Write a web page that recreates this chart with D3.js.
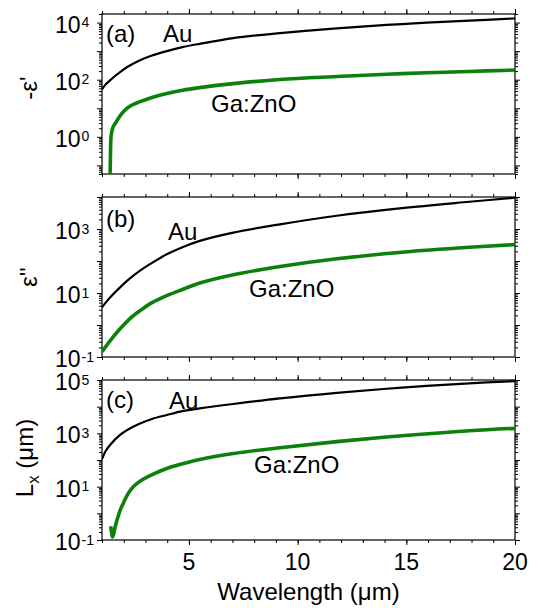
<!DOCTYPE html>
<html>
<head>
<meta charset="utf-8">
<script src="https://cdn.jsdelivr.net/npm/d3@7"></script>
<style>
body{margin:0;background:#fff}
text{font-family:Arial,"Liberation Sans",sans-serif;fill:#000}
</style>
</head>
<body>
<script>
// [wavelength um, value]
var auNegReal = [[1.0,46],[1.15,66],[1.37,95],[1.6,135],[1.83,186],[2.2,290],[2.75,480],[3.3,700],[3.98,1000],[4.7,1380],[5.5,1810],[7.04,2870],[9.19,4270],[11.8,6300],[14.8,8900],[17.9,11700],[20,14000]];
var gzoNegReal = [[1.37,0.03],[1.39,0.25],[1.41,0.9],[1.43,1.25],[1.48,1.9],[1.56,2.6],[1.65,3.3],[1.75,4.4],[1.98,7.6],[2.3,12],[2.75,17],[3.3,24],[3.98,33],[4.7,43],[5.5,53],[7.04,73],[9.19,102],[11.8,129],[14.8,163],[17.9,195],[20,218]];

var auImag = [[1.0,3.6],[1.37,7.2],[1.83,15],[2.3,29],[2.75,50],[3.3,87],[3.98,162],[4.7,270],[5.5,425],[7.04,770],[9.19,1400],[11.8,2600],[14.8,4500],[17.9,7100],[20,9500]];
var gzoImag = [[1.0,0.145],[1.37,0.32],[1.83,0.76],[2.3,1.62],[2.75,2.8],[3.3,5.0],[3.98,8.3],[4.7,12.9],[5.5,20.4],[7.04,37],[9.19,67],[11.8,117],[14.8,188],[17.9,268],[20,325]];

var auLx = [[1.0,107],[1.15,205],[1.37,365],[1.83,870],[2.3,1550],[2.75,2360],[3.3,3470],[3.98,4850],[4.7,6760],[5.5,8600],[7.04,12600],[9.19,20400],[11.8,33000],[14.8,52000],[17.9,75000],[20,91000]];
var gzoLx = [[1.40,0.33],[1.44,0.2],[1.48,0.13],[1.53,0.16],[1.6,0.3],[1.7,0.6],[1.85,1.4],[1.98,2.4],[2.2,5.5],[2.44,10],[2.8,17],[3.21,26],[3.98,48],[4.7,72],[5.5,105],[7.04,174],[9.19,290],[11.8,490],[14.8,810],[17.9,1250],[20,1540]];

var xTicksMajor = [5,10,15,20];
var xTicksMinor = d3.range(1,21);

var params = {
  width:538
, height:608
, left:102
, right:515
, ph:160
, tops:[14,197,380]
, font:23
};

var panels = [
  {tag:'(a)', domain:[0.05,2e4], labelExp:[0,2,4], au:auNegReal, gzo:gzoNegReal,
   tagPos:[106,41.5], auPos:[163,41.5], gzoPos:[211,111.5]}
, {tag:'(b)', domain:[0.1,1e4], labelExp:[-1,1,3], au:auImag, gzo:gzoImag,
   tagPos:[106,227], auPos:[168,240], gzoPos:[249,297]}
, {tag:'(c)', domain:[0.1,1e5], labelExp:[-1,1,3,5], au:auLx, gzo:gzoLx,
   tagPos:[106,408], auPos:[169,409], gzoPos:[254,473]}
];

var svg = d3.select('body').append('svg')
  .attr('width',params.width).attr('height',params.height);

var x = d3.scaleLinear().domain([1,20]).range([params.left,params.right]);

panels.forEach(function(p,i){
  var top = params.tops[i], bot = top + params.ph;
  var y = d3.scaleLog().domain(p.domain).range([bot,top]);
  var lo = Math.floor(Math.log10(p.domain[0])), hi = Math.ceil(Math.log10(p.domain[1]));
  var major = [], minor = [];
  for (var d=lo; d<=hi; d++){
    var v = Math.pow(10,d);
    if (v>=p.domain[0]*0.999 && v<=p.domain[1]*1.001) major.push(v);
    for (var k=2;k<10;k++){
      var m = k*v;
      if (m>=p.domain[0]*0.999 && m<=p.domain[1]*1.001) minor.push(m);
    }
  }

  var g = svg.append('g');
  var cid = 'clip'+i;
  g.append('clipPath').attr('id',cid).append('rect')
    .attr('x',params.left).attr('y',top)
    .attr('width',params.right-params.left).attr('height',params.ph);

  function tickAxis(axis,tv,size,tr){
    g.append('g').attr('transform',tr)
      .call(axis.tickValues(tv).tickSize(size).tickFormat(''))
      .call(function(s){
        s.select('.domain').remove();
        s.selectAll('line').attr('stroke','#000').attr('stroke-width',1);
      });
  }
  // y ticks both sides
  tickAxis(d3.axisLeft(y),minor,3,'translate('+params.left+',0)');
  tickAxis(d3.axisLeft(y),major,5,'translate('+params.left+',0)');
  tickAxis(d3.axisRight(y),minor,3,'translate('+params.right+',0)');
  tickAxis(d3.axisRight(y),major,5,'translate('+params.right+',0)');
  // x ticks top and bottom
  tickAxis(d3.axisTop(x),xTicksMinor,3,'translate(0,'+top+')');
  tickAxis(d3.axisTop(x),xTicksMajor,5,'translate(0,'+top+')');
  tickAxis(d3.axisBottom(x),xTicksMinor,3,'translate(0,'+bot+')');
  tickAxis(d3.axisBottom(x),xTicksMajor,5,'translate(0,'+bot+')');

  g.append('rect')
    .attr('x',params.left).attr('y',top)
    .attr('width',params.right-params.left).attr('height',params.ph)
    .attr('fill','none').attr('stroke','#000').attr('stroke-width',1.2);

  // y tick labels 10^n
  p.labelExp.forEach(function(e){
    var ty = y(Math.pow(10,e));
    g.append('text').attr('x',80.5).attr('y',ty+10)
      .attr('text-anchor','end').style('font-size',params.font+'px').text('10');
    g.append('text').attr('x',81.5).attr('y',ty+4.5)
      .style('font-size','14px').text(String(e));
  });

  var line = d3.line()
    .x(function(d){return x(d[0]);})
    .y(function(d){return y(d[1]);})
    .curve(d3.curveCatmullRom.alpha(0.5));

  var lines = g.append('g').attr('clip-path','url(#'+cid+')');
  lines.append('path').datum(p.au).attr('d',line)
    .attr('fill','none').attr('stroke','#000').attr('stroke-width',2.2);
  lines.append('path').datum(p.gzo).attr('d',line)
    .attr('fill','none').attr('stroke','#0b800b').attr('stroke-width',3.6);

  g.append('text').attr('x',p.tagPos[0]).attr('y',p.tagPos[1])
    .style('font-size','24px').text(p.tag);
  g.append('text').attr('x',p.auPos[0]).attr('y',p.auPos[1])
    .style('font-size','24px').text('Au');
  g.append('text').attr('x',p.gzoPos[0]).attr('y',p.gzoPos[1])
    .style('font-size','24px').text('Ga:ZnO');

  if (i===2){
    xTicksMajor.forEach(function(v){
      g.append('text').attr('x',x(v)).attr('y',bot+30)
        .attr('text-anchor','middle').style('font-size',params.font+'px').text(v);
    });
  }
});

// axis titles
var mid = function(i){return params.tops[i]+params.ph/2;};
svg.append('text').attr('transform','translate(37,'+(mid(0)-6)+') rotate(-90)')
  .attr('text-anchor','middle').style('font-size','24px').text("-\u03b5'");
svg.append('text').attr('transform','translate(37,'+mid(1)+') rotate(-90)')
  .attr('text-anchor','middle').style('font-size','24px').text("\u03b5''");
var lt = svg.append('text').attr('transform','translate(33,'+(mid(2)-2)+') rotate(-90)')
  .attr('text-anchor','middle').style('font-size','24px');
lt.append('tspan').text('L');
lt.append('tspan').attr('dy',6).style('font-size','17px').text('x');
lt.append('tspan').attr('dy',-6).text(' (\u03bcm)');

svg.append('text').attr('x',(params.left+params.right)/2).attr('y',600)
  .attr('text-anchor','middle').style('font-size','24px').text('Wavelength (\u03bcm)');
</script>
</body>
</html>
